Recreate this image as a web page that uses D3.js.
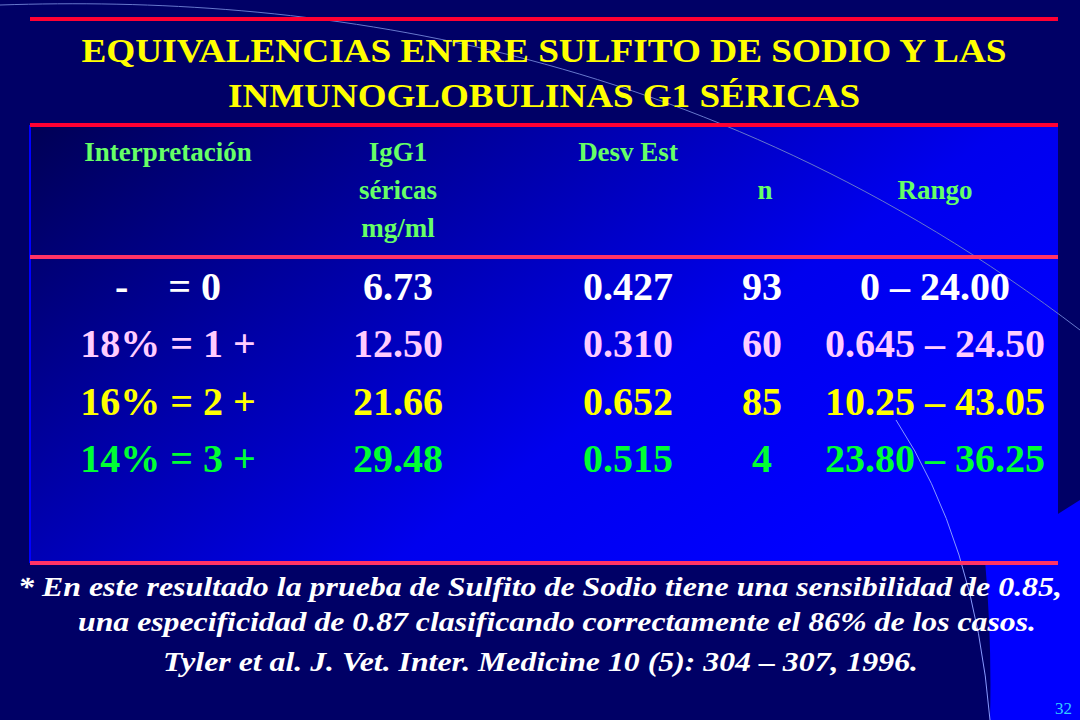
<!DOCTYPE html>
<html><head><meta charset="utf-8">
<script src="https://cdn.jsdelivr.net/npm/d3@7"></script>
<style>body{margin:0;background:#000066}svg{display:block}</style>
</head><body>
<script>
// table data
const headers = [["Interpretación"], ["IgG1", "séricas", "mg/ml"], ["Desv Est"], ["", "n"], ["", "Rango"]];
const interp = ["-    = 0", "18% = 1 +", "16% = 2 +", "14% = 3 +"];
const igg1 = ["6.73", "12.50", "21.66", "29.48"];
const desv = ["0.427", "0.310", "0.652", "0.515"];
const nVals = ["93", "60", "85", "4"];
const rango = ["0 – 24.00", "0.645 – 24.50", "10.25 – 43.05", "23.80 – 36.25"];
const rowColors = ["#ffffff", "#ffccff", "#ffff00", "#00ff33"];

const W = 1080, H = 720;
const svg = d3.select("body").append("svg").attr("width", W).attr("height", H);
const defs = svg.append("defs");
const g = defs.append("linearGradient").attr("id", "box").attr("x1", 0).attr("y1", 0).attr("x2", 1).attr("y2", 0.6);
g.append("stop").attr("offset", 0).attr("stop-color", "#000055");
g.append("stop").attr("offset", 0.7).attr("stop-color", "#0000ee");
g.append("stop").attr("offset", 1).attr("stop-color", "#0000ff");

svg.append("rect").attr("width", W).attr("height", H).attr("fill", "#000066");
svg.append("path").attr("d", "M985,560 Q992,640 990,720 L1080,720 L1080,500 Z").attr("fill", "#0000ff");
svg.append("rect").attr("x", 30).attr("y", 125).attr("width", 1028).attr("height", 438).attr("fill", "url(#box)");
svg.append("path").attr("d", "M0,5 C300,-5 700,40 1080,330").attr("fill", "none").attr("stroke", "#6677cc").attr("stroke-width", 1);
svg.append("path").attr("d", "M896,420 Q975,540 990,720").attr("fill", "none").attr("stroke", "#8899ff").attr("stroke-width", 1);
svg.append("line").attr("x1", 30).attr("x2", 30).attr("y1", 125).attr("y2", 563).attr("stroke", "#0000ff").attr("stroke-width", 2);

const hlines = [[19, "#ff0033"], [125, "#ff0033"], [257, "#ff3366"], [563, "#ff3366"]];
svg.selectAll("line.h").data(hlines).join("line").attr("class", "h")
  .attr("x1", 30).attr("x2", 1058).attr("y1", d => d[0]).attr("y2", d => d[0])
  .attr("stroke", d => d[1]).attr("stroke-width", 4);

const serif = "'Liberation Serif','Times New Roman',serif";
svg.selectAll("text.title").data([["EQUIVALENCIAS ENTRE SULFITO DE SODIO Y LAS", 925], ["INMUNOGLOBULINAS G1 SÉRICAS", 632]]).join("text")
  .attr("x", 544).attr("y", (d, i) => 62 + i * 45).attr("text-anchor", "middle")
  .attr("textLength", d => d[1]).attr("lengthAdjust", "spacingAndGlyphs")
  .attr("font-family", serif).attr("font-weight", "bold").attr("font-size", 34).attr("fill", "#ffff00").text(d => d[0]);

const colX = d3.scaleOrdinal().domain(d3.range(5)).range([168, 398, 628, 765, 935]);
headers.forEach((lines, c) => {
  lines.forEach((t, k) => svg.append("text").attr("x", colX(c)).attr("y", 161 + k * 38)
    .attr("text-anchor", "middle").attr("font-family", serif).attr("font-weight", "bold")
    .attr("font-size", 27).attr("fill", "#66ff66").text(t));
});

const y = d3.scalePoint().domain(d3.range(4)).range([300, 472]);
const cols = [interp, igg1, desv, nVals, rango];
const dataX = [168, 398, 628, 762, 935];
cols.forEach((col, c) => {
  svg.selectAll("text.c" + c).data(col).join("text").attr("class", "c" + c)
    .attr("x", dataX[c]).attr("y", (d, i) => y(i)).attr("text-anchor", "middle")
    .attr("font-family", serif).attr("font-weight", "bold").attr("font-size", 40)
    .attr("fill", (d, i) => rowColors[i]).style("white-space", "pre").text(d => d);
});

const foot = [
  [18, "* En este resultado la prueba de Sulfito de Sodio tiene una sensibilidad de 0.85,", 596, 1044],
  [78, "una especificidad de 0.87 clasificando correctamente el 86% de los casos.", 631, 958],
  [163, "Tyler et al. J. Vet. Inter. Medicine 10 (5): 304 – 307, 1996.", 671, 755]
];
svg.selectAll("text.foot").data(foot).join("text").attr("class", "foot")
  .attr("x", d => d[0]).attr("y", d => d[2]).attr("textLength", d => d[3]).attr("lengthAdjust", "spacingAndGlyphs")
  .attr("font-family", serif).attr("font-weight", "bold").attr("font-style", "italic")
  .attr("font-size", 27).attr("fill", "#ffffff").text(d => d[1]);

svg.append("text").attr("x", 1072).attr("y", 714).attr("text-anchor", "end")
  .attr("font-family", serif).attr("font-size", 17).attr("fill", "#33ccff").text("32");
</script>
</body></html>
